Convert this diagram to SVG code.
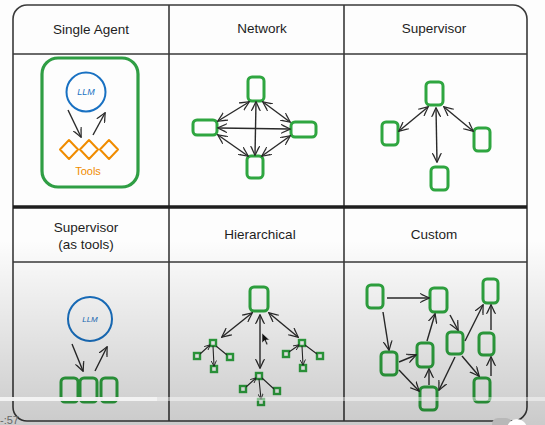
<svg xmlns="http://www.w3.org/2000/svg" width="545" height="425" viewBox="0 0 545 425">
<defs>
<style>
.grid{fill:none;stroke:#3a3a3a;stroke-width:1.6}
.thick{fill:none;stroke:#1e1e1e;stroke-width:3.5}
.hdr{font-family:"Liberation Sans",Arial,sans-serif;font-size:13.5px;fill:#1e1e1e;text-anchor:middle}
.node{fill:none;stroke:#2fa640;stroke-width:3;stroke-linejoin:round}
.snode{fill:none;stroke:#2fa640;stroke-width:2.4}
.conn{fill:none;stroke:#2a2a2a;stroke-width:1.4}
.sconn{fill:none;stroke:#2a2a2a;stroke-width:1.1}
.llm{fill:none;stroke:#1971c2;stroke-width:2}
.llmt{font-family:"Liberation Sans",Arial,sans-serif;font-style:italic;fill:#1971c2;text-anchor:middle}
.tool{fill:none;stroke:#f08c00;stroke-width:2;stroke-linejoin:round}
</style>
<marker id="ah" viewBox="0 0 10 10" refX="9" refY="5" markerWidth="10" markerHeight="10" markerUnits="userSpaceOnUse" orient="auto-start-reverse">
<path d="M0,0.5 L9.5,5 L0,9.5 M1.5,1.5 L9.5,5 L1.5,8.5" fill="none" stroke="#2a2a2a" stroke-width="1.1"/>
</marker>
<marker id="ahs" viewBox="0 0 10 10" refX="9" refY="5" markerWidth="6" markerHeight="6" markerUnits="userSpaceOnUse" orient="auto-start-reverse">
<path d="M0,0.5 L9.5,5 L0,9.5" fill="none" stroke="#2a2a2a" stroke-width="1.5"/>
</marker>
<linearGradient id="shade" x1="0" y1="0" x2="0" y2="1">
<stop offset="0" stop-color="#000" stop-opacity="0"/>
<stop offset="1" stop-color="#000" stop-opacity="0.2"/>
</linearGradient>
</defs>
<rect x="0" y="0" width="545" height="425" fill="#fdfdfd"/>
<g id="grid">
<rect class="grid" x="13" y="5" width="514" height="416" rx="14"/>
<path class="grid" d="M169,5 V421 M344,5 V421 M13,54 H527 M13,262 H527"/>
<path class="thick" d="M13,207 H527"/>
</g>
<g id="headers">
<text class="hdr" x="91" y="34">Single Agent</text>
<text class="hdr" x="262" y="33">Network</text>
<text class="hdr" x="434" y="33">Supervisor</text>
<text class="hdr" x="86" y="232">Supervisor</text>
<text class="hdr" x="86" y="249">(as tools)</text>
<text class="hdr" x="260" y="239">Hierarchical</text>
<text class="hdr" x="434" y="239">Custom</text>
</g>
<g id="single-agent">
<rect x="42" y="58" width="96" height="129" rx="16" fill="none" stroke="#2f9e44" stroke-width="3.2"/>
<circle class="llm" cx="86" cy="92" r="19.5"/>
<text class="llmt" x="86" y="95" font-size="9">LLM</text>
<path class="tool" d="M69,140 L78,149.5 L69,159 L60,149.5 Z M89,140 L98,149.5 L89,159 L80,149.5 Z M109,140 L118,149.5 L109,159 L100,149.5 Z"/>
<text x="88" y="175" font-family="Liberation Sans,Arial,sans-serif" font-size="11" fill="#f08c00" text-anchor="middle">Tools</text>
</g>
<g id="network">
<rect class="node" x="248" y="77" width="16" height="24" rx="4"/>
<rect class="node" x="193" y="120" width="24" height="15" rx="4"/>
<rect class="node" x="291" y="122" width="25" height="15" rx="4"/>
<rect class="node" x="247" y="156" width="16" height="22" rx="4"/>
</g>
<g id="supervisor">
<rect class="node" x="426" y="82" width="17" height="23" rx="4"/>
<rect class="node" x="382" y="122" width="16" height="23" rx="4"/>
<rect class="node" x="474" y="128" width="16" height="23" rx="4"/>
<rect class="node" x="431" y="167" width="17" height="23" rx="4"/>
</g>
<g id="supervisor-as-tools">
<circle class="llm" cx="90" cy="319" r="22"/>
<text class="llmt" x="90" y="322" font-size="8">LLM</text>
<rect class="node" x="61" y="378" width="17" height="24" rx="4"/>
<rect class="node" x="80" y="378" width="17" height="24" rx="4"/>
<rect class="node" x="101" y="378" width="16" height="24" rx="4"/>
</g>
<g id="hierarchical">
<rect class="node" x="250" y="287" width="18" height="24" rx="4"/>
<rect class="snode" x="210" y="340" width="6" height="6"/>
<rect class="snode" x="194" y="353" width="6" height="6"/>
<rect class="snode" x="227" y="354" width="6" height="6"/>
<rect class="snode" x="211" y="366" width="6" height="6"/>
<rect class="snode" x="299" y="340" width="6" height="6"/>
<rect class="snode" x="283" y="351" width="6" height="6"/>
<rect class="snode" x="317" y="353" width="6" height="6"/>
<rect class="snode" x="300" y="365" width="6" height="6"/>
<rect class="snode" x="256" y="373" width="6" height="6"/>
<rect class="snode" x="240" y="386" width="6" height="6"/>
<rect class="snode" x="274" y="388" width="6" height="6"/>
<rect class="snode" x="258" y="399" width="6" height="6"/>
</g>
<g id="custom">
<rect class="node" x="367" y="285" width="16" height="23" rx="4"/>
<rect class="node" x="430" y="288" width="17" height="24" rx="4"/>
<rect class="node" x="483" y="279" width="15" height="24" rx="4"/>
<rect class="node" x="381" y="352" width="16" height="23" rx="4"/>
<rect class="node" x="417" y="343" width="16" height="24" rx="4"/>
<rect class="node" x="447" y="332" width="16" height="22" rx="4"/>
<rect class="node" x="479" y="333" width="15" height="22" rx="4"/>
<rect class="node" x="420" y="387" width="17" height="23" rx="4"/>
<rect class="node" x="474" y="378" width="16" height="24" rx="4"/>
</g>
<g id="connectors">
<path class="conn" d="M68,110 L81,137" marker-end="url(#ah)"/>
<path class="conn" d="M93,135 L105,113" marker-end="url(#ah)"/>
<path class="conn" d="M249,102 L218,121" marker-start="url(#ah)" marker-end="url(#ah)"/>
<path class="conn" d="M263,102 L290,122" marker-start="url(#ah)" marker-end="url(#ah)"/>
<path class="conn" d="M218,128 L290,129" marker-start="url(#ah)" marker-end="url(#ah)"/>
<path class="conn" d="M256,102 L255,155" marker-start="url(#ah)" marker-end="url(#ah)"/>
<path class="conn" d="M218,135 L248,156" marker-start="url(#ah)" marker-end="url(#ah)"/>
<path class="conn" d="M290,136 L262,156" marker-start="url(#ah)" marker-end="url(#ah)"/>
<path class="conn" d="M428,107 L399,131" marker-start="url(#ah)" marker-end="url(#ah)"/>
<path class="conn" d="M444,107 L473,131" marker-start="url(#ah)" marker-end="url(#ah)"/>
<path class="conn" d="M436,108 L437,162" marker-start="url(#ah)" marker-end="url(#ah)"/>
<path class="conn" d="M72,344 L83,371" marker-end="url(#ah)"/>
<path class="conn" d="M95,371 L107,347" marker-end="url(#ah)"/>
<path class="conn" d="M252,313 L222,337" marker-start="url(#ah)" marker-end="url(#ah)"/>
<path class="conn" d="M260,315 L260,368" marker-start="url(#ah)" marker-end="url(#ah)"/>
<path class="conn" d="M269,313 L298,337" marker-start="url(#ah)" marker-end="url(#ah)"/>
<path class="sconn" d="M210,345 L200,354 M216,346 L227,355 M213,346 L214,366" marker-start="url(#ahs)" marker-end="url(#ahs)"/>
<path class="sconn" d="M299,345 L289,352 M305,345 L317,354 M302,346 L303,365" marker-start="url(#ahs)" marker-end="url(#ahs)"/>
<path class="sconn" d="M256,378 L246,387 M262,378 L274,389 M259,379 L261,399" marker-start="url(#ahs)" marker-end="url(#ahs)"/>
<path class="conn" d="M387,298 L429,298" marker-end="url(#ah)"/>
<path class="conn" d="M383,312 L389,350" marker-end="url(#ah)"/>
<path class="conn" d="M450,315 L458,330" marker-end="url(#ah)"/>
<path class="conn" d="M427,341 L435,314" marker-end="url(#ah)"/>
<path class="conn" d="M399,362 L416,355" marker-end="url(#ah)"/>
<path class="conn" d="M399,370 L419,391" marker-end="url(#ah)"/>
<path class="conn" d="M429,385 L429,369" marker-end="url(#ah)"/>
<path class="conn" d="M455,357 L439,390" marker-end="url(#ah)"/>
<path class="conn" d="M465,341 L483,305" marker-end="url(#ah)"/>
<path class="conn" d="M462,356 L479,376" marker-end="url(#ah)"/>
<path class="conn" d="M491,376 L491,357" marker-end="url(#ah)"/>
<path class="conn" d="M491,330 L491,305" marker-end="url(#ah)"/>
</g>
<path d="M262,333 L262,343 L264.5,340.5 L266.5,345 L268,344.3 L266,340 L269.5,340 Z" fill="#111" stroke="#fff" stroke-width="0.6"/>
<rect x="0" y="240" width="545" height="185" fill="url(#shade)"/>
<rect x="0" y="397" width="545" height="4" fill="#fff" fill-opacity="0.45"/>
<rect x="0" y="397" width="157" height="4" fill="#f4f4f4" fill-opacity="0.9"/>
<rect x="492" y="418" width="20" height="12" rx="6" fill="#b8b8b8"/>
<circle cx="517" cy="429" r="10" fill="#fff"/>
<text x="0" y="424" font-family="Liberation Sans,Arial,sans-serif" font-size="11" fill="#666">-:57</text>
</svg>
